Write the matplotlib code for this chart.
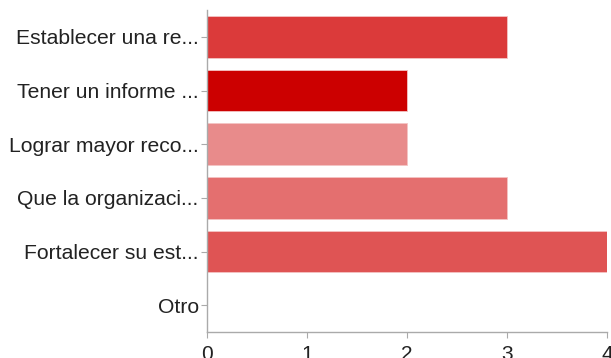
import matplotlib
matplotlib.use("Agg")
import matplotlib.pyplot as plt

categories = ["Establecer una re...", "Tener un informe ...", "Lograr mayor reco...",
              "Que la organizaci...", "Fortalecer su est...", "Otro"]
values = [3, 2, 2, 3, 4, 0]
colors = ["#DB3A3A", "#CC0000", "#E88B8B", "#E46F6F", "#DF5454", "#DB3A3A"]
xticks = [0, 1, 2, 3, 4]

plt.rcParams['font.family'] = ['Liberation Sans', 'DejaVu Sans']
fig = plt.figure(figsize=(6.11, 3.58), dpi=100)
ax = fig.add_axes([207/611, 1-332/358, 400/611, 322/358])
y = list(range(len(categories)))
ax.barh(y, values, height=0.78, color=colors, edgecolor="#F4C4C4", linewidth=0.6)
ax.set_ylim(len(categories)-0.5, -0.5)
ax.set_xlim(0, 4)
ax.set_yticks(y)
ax.set_yticklabels(categories, fontsize=15.2, color="#222222")
ax.set_xticks(xticks)
ax.set_xticklabels([str(t) for t in xticks], fontsize=15, color="#222222")
for s in ["top", "right"]:
    ax.spines[s].set_visible(False)
for s in ["left", "bottom"]:
    ax.spines[s].set_color("#AAAAAA")
    ax.spines[s].set_linewidth(1)
ax.tick_params(axis='y', length=4, color="#AAAAAA", pad=2)
ax.tick_params(axis='x', length=4, color="#AAAAAA", pad=5)
fig.savefig("out.png", dpi=100)
